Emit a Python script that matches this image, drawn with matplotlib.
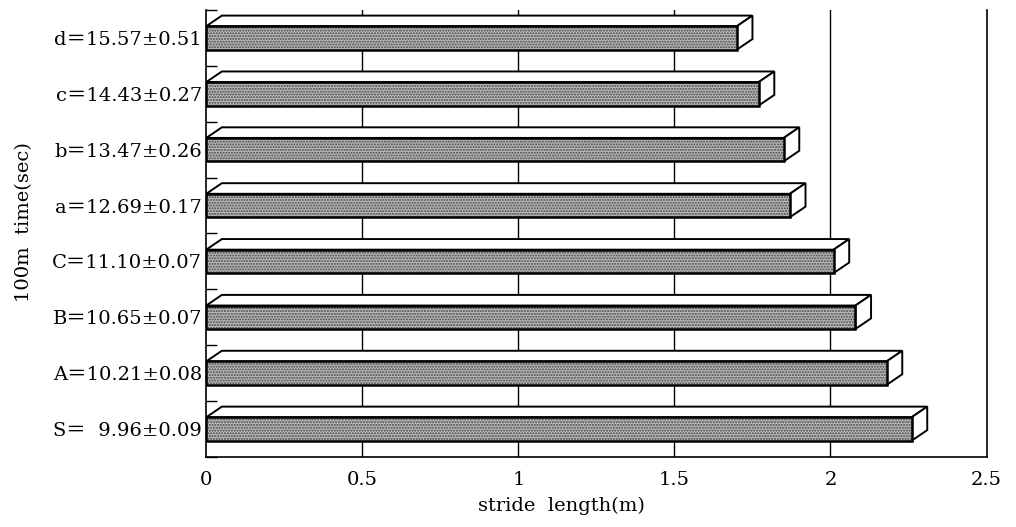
import matplotlib
matplotlib.use("Agg")
import matplotlib.pyplot as plt
from matplotlib.patches import Polygon, Rectangle

plt.rcParams["font.family"] = ["DejaVu Serif", "Noto Sans CJK JP"]

# groups listed bottom to top
groups = ["S", "A", "B", "C", "a", "b", "c", "d"]
mean_time = ["9.96", "10.21", "10.65", "11.10", "12.69", "13.47", "14.43", "15.57"]
sd_time = ["0.09", "0.08", "0.07", "0.07", "0.17", "0.26", "0.27", "0.51"]
stride = [2.26, 2.18, 2.08, 2.01, 1.87, 1.85, 1.77, 1.70]

xticks = [0, 0.5, 1, 1.5, 2, 2.5]
xtick_labels = ["0", "0.5", "1", "1.5", "2", "2.5"]

HALF = 0.21          # half height of the front face (category units)
DX, DY = 0.05, 0.19  # oblique depth of the box

fig = plt.figure(figsize=(10.16, 5.27), dpi=100)
ax = fig.add_axes([0.203, 0.133, 0.768, 0.848])

for x in xticks[1:-1]:
    ax.axvline(x, color="black", lw=1.0, zorder=1)

for i, v in enumerate(stride):
    lo, hi = i - HALF, i + HALF
    top = Polygon([(0, hi), (DX, hi + DY), (v + DX, hi + DY), (v, hi)],
                  closed=True, facecolor="white", edgecolor="black", lw=1.4, zorder=3)
    side = Polygon([(v, lo), (v + DX, lo + DY), (v + DX, hi + DY), (v, hi)],
                   closed=True, facecolor="white", edgecolor="black", lw=1.4, zorder=3)
    front_fill = Rectangle((0, lo), v, hi - lo, facecolor="#bababa",
                           edgecolor="#444444", hatch="......", lw=0, zorder=4)
    front_edge = Rectangle((0, lo), v, hi - lo, fill=False,
                           edgecolor="black", lw=1.8, zorder=5)
    for p in (top, side, front_fill, front_edge):
        ax.add_patch(p)

labels = []
for g, m, s in zip(groups, mean_time, sd_time):
    pad = "  " if len(m) < 5 else ""
    labels.append(f"{g}＝{pad}{m}±{s}")

ax.set_xlim(0, 2.5)
ax.set_ylim(-0.5, len(groups) - 0.5)
ax.set_xticks(xticks)
ax.set_xticklabels(xtick_labels, fontsize=14)
ax.set_yticks(range(len(groups)))
ax.set_yticklabels(labels, fontsize=14)
ax.set_yticks([i - 0.5 for i in range(len(groups) + 1)], minor=True)
ax.tick_params(axis="y", which="major", length=0, pad=3)
ax.tick_params(axis="y", which="minor", direction="in", length=8, width=1)
ax.tick_params(axis="x", length=0, pad=10)

ax.spines["top"].set_visible(False)
for side in ("left", "right", "bottom"):
    ax.spines[side].set_linewidth(1.2)

ax.set_xlabel("stride  length(m)", fontsize=14)
ax.xaxis.set_label_coords(0.455, -0.09)
ax.set_ylabel("100m  time(sec)", fontsize=14)
ax.yaxis.set_label_coords(-0.222, 0.526)

fig.savefig("out.png", dpi=100)
